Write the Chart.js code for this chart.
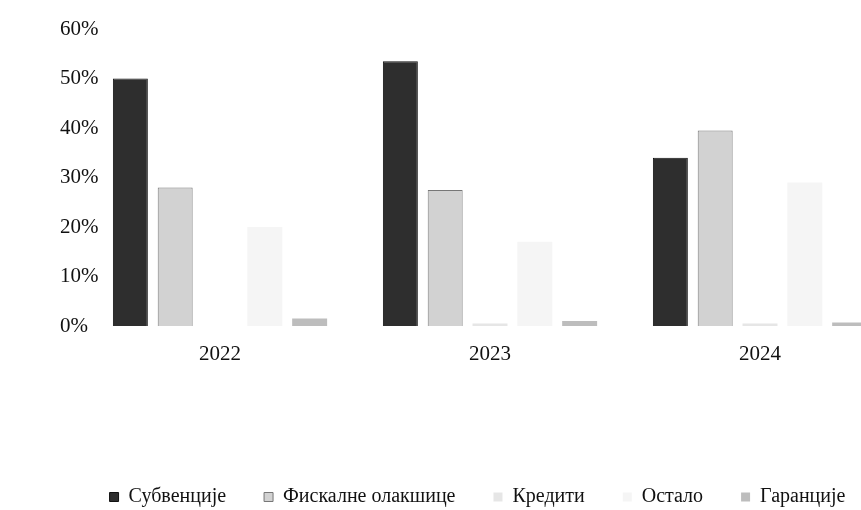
<!DOCTYPE html>
<html>
<head>
<meta charset="utf-8">
<script src="https://cdn.jsdelivr.net/npm/chart.js@4/dist/chart.umd.min.js"></script>
<style>
  body { margin: 0; background: #fff; overflow: hidden; }
  #wrap { width: 900px; height: 517px; }
</style>
</head>
<body>
<div id="wrap"><canvas id="chart" width="900" height="517"></canvas></div>
<script>
'use strict';

// data

let years = ['2022', '2023', '2024'];

let subvencije = [50, 53.5, 34];
let fiskalne = [28, 27.5, 39.5];
let krediti = [0, 0.5, 0.5];
let ostalo = [20, 17, 29];
let garancije = [1.5, 1, 0.7];

let yTicks = [0, 10, 20, 30, 40, 50, 60];

let canvasElem = document.getElementById('chart');

Chart.defaults.font.family = '"Liberation Serif", "Times New Roman", serif';
Chart.defaults.color = '#111';

let chartObj = {
  type: 'bar',
  data: {
    labels: years,
    datasets: [{
      label: 'Субвенције',
      data: subvencije,
      backgroundColor: '#2e2e2e',
      borderColor: '#111',
      borderWidth: 1
    },
    {
      label: 'Фискалне олакшице',
      data: fiskalne,
      backgroundColor: '#d2d2d2',
      borderColor: '#777',
      borderWidth: 1
    },
    {
      label: 'Кредити',
      data: krediti,
      backgroundColor: '#e6e6e6',
      borderWidth: 0
    },
    {
      label: 'Остало',
      data: ostalo,
      backgroundColor: '#f5f5f5',
      borderWidth: 0
    },
    {
      label: 'Гаранције',
      data: garancije,
      backgroundColor: '#bdbdbd',
      borderWidth: 0
    }]
  },
  options: {
    responsive: false,
    animation: false,
    barPercentage: 0.78,
    categoryPercentage: 0.83,
    layout: {
      padding: { left: 60, right: 5, top: 29, bottom: 0 }
    },
    plugins: {
      legend: {
        position: 'bottom',
        labels: {
          boxWidth: 9,
          boxHeight: 9,
          padding: 38,
          font: { size: 20 },
          color: '#111'
        }
      },
      tooltip: { enabled: false }
    },
    scales: {
      x: {
        grid: { display: false, drawTicks: false },
        border: { display: false },
        ticks: { padding: 16, font: { size: 21 } },
        afterFit: function (s) { s.height = 123; }
      },
      y: {
        min: 0,
        max: 60,
        grid: { display: false, drawTicks: false },
        border: { display: false },
        afterFit: function (s) { s.width = 25; },
        afterBuildTicks: function (s) {
          s.ticks = yTicks.map(function (v) { return { value: v }; });
        },
        ticks: {
          mirror: true,
          crossAlign: 'near',
          padding: -25,
          font: { size: 21 },
          callback: function (v) { return v + '%'; }
        }
      }
    }
  }
};

new Chart(canvasElem, chartObj);
</script>
</body>
</html>
